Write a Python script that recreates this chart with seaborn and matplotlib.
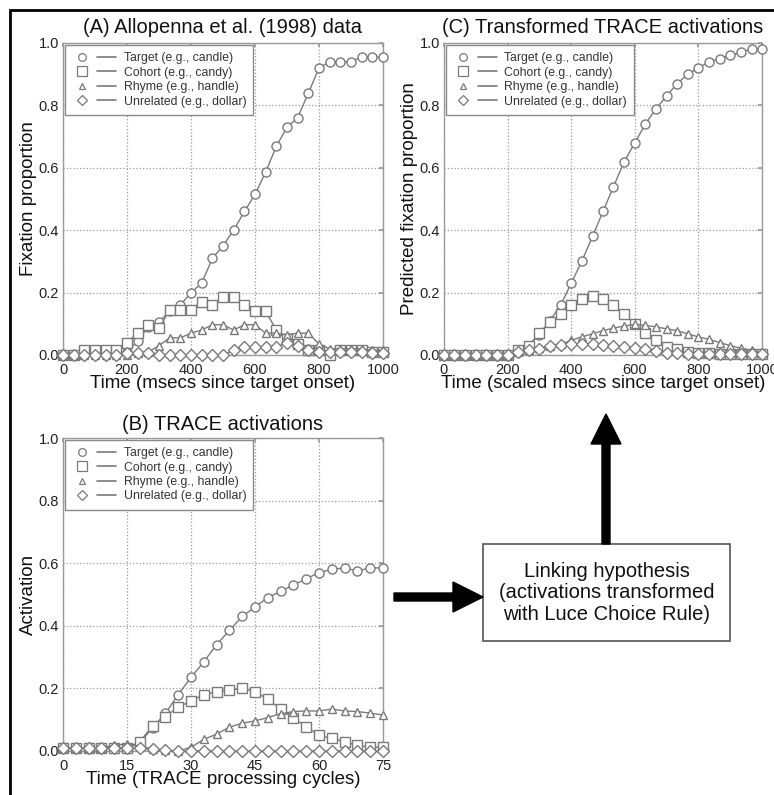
import matplotlib.pyplot as plt
import seaborn as sns
import numpy as np
from matplotlib.lines import Line2D
from matplotlib.legend_handler import HandlerTuple
from matplotlib.patches import FancyArrow, Rectangle

# ---- data ----
time_ms = [0, 33, 67, 100, 133, 167, 200, 233, 267, 300, 333, 367, 400, 433, 467, 500,
           533, 567, 600, 633, 667, 700, 733, 767, 800, 833, 867, 900, 933, 967, 1000]
cycles = [0, 3, 6, 9, 12, 15, 18, 21, 24, 27, 30, 33, 36, 39, 42, 45, 48, 51, 54, 57,
          60, 63, 66, 69, 72, 75]

labels = ["Target (e.g., candle)", "Cohort (e.g., candy)",
          "Rhyme (e.g., handle)", "Unrelated (e.g., dollar)"]

# (A) Allopenna et al. (1998)
a_target = [0.0, 0.0, 0.0, 0.01, 0.01, 0.01, 0.01, 0.045, 0.09, 0.105, 0.14, 0.16, 0.20, 0.23,
            0.31, 0.35, 0.40, 0.46, 0.515, 0.585, 0.67, 0.73, 0.76, 0.84, 0.92, 0.94, 0.94,
            0.94, 0.955, 0.955, 0.955]
a_cohort = [0.0, 0.0, 0.015, 0.015, 0.015, 0.015, 0.04, 0.07, 0.095, 0.085, 0.145, 0.145, 0.145,
            0.17, 0.16, 0.185, 0.185, 0.16, 0.14, 0.14, 0.08, 0.05, 0.035, 0.015, 0.015, 0.0,
            0.015, 0.015, 0.015, 0.01, 0.01]
a_rhyme = [0.0, 0.0, 0.0, 0.0, 0.0, 0.0, 0.0, 0.005, 0.01, 0.03, 0.055, 0.055, 0.07, 0.08, 0.097,
           0.097, 0.08, 0.097, 0.097, 0.07, 0.07, 0.065, 0.07, 0.07, 0.035, 0.02, 0.02, 0.02,
           0.02, 0.015, 0.015]
a_unrel = [0.0, 0.0, 0.0, 0.0, 0.0, 0.0, 0.005, 0.005, 0.005, 0.0, 0.0, 0.0, 0.0, 0.0, 0.0, 0.0,
           0.015, 0.025, 0.025, 0.025, 0.025, 0.04, 0.03, 0.015, 0.01, 0.01, 0.01, 0.01, 0.01,
           0.005, 0.005]

# (B) TRACE activations
b_target = [0.01, 0.01, 0.01, 0.01, 0.01, 0.01, 0.025, 0.075, 0.12, 0.18, 0.235, 0.285, 0.34,
            0.385, 0.43, 0.46, 0.49, 0.51, 0.53, 0.55, 0.57, 0.58, 0.585, 0.575, 0.585, 0.585]
b_cohort = [0.01, 0.01, 0.01, 0.01, 0.01, 0.01, 0.03, 0.08, 0.11, 0.14, 0.16, 0.18, 0.19, 0.195,
            0.2, 0.19, 0.165, 0.135, 0.105, 0.078, 0.05, 0.04, 0.03, 0.018, 0.012, 0.012]
b_rhyme = [0.01, 0.01, 0.01, 0.01, 0.018, 0.023, 0.015, 0.007, 0.002, 0.0, 0.012, 0.037, 0.054,
           0.076, 0.089, 0.096, 0.107, 0.119, 0.126, 0.128, 0.128, 0.134, 0.128, 0.126, 0.121,
           0.115]
b_unrel = [0.01, 0.01, 0.01, 0.01, 0.01, 0.01, 0.008, 0.005, 0.002, 0.0, 0.0, 0.0, 0.0, 0.0,
           0.0, 0.0, 0.0, 0.0, 0.0, 0.0, 0.0, 0.0, 0.0, 0.0, 0.0, 0.0]

# (C) Transformed TRACE activations
c_target = [0.0, 0.0, 0.0, 0.0, 0.0, 0.0, 0.0, 0.01, 0.03, 0.065, 0.11, 0.16, 0.23, 0.30, 0.38,
            0.46, 0.54, 0.62, 0.68, 0.74, 0.79, 0.83, 0.87, 0.90, 0.92, 0.94, 0.95, 0.96, 0.97,
            0.98, 0.98]
c_cohort = [0.0, 0.0, 0.0, 0.0, 0.0, 0.0, 0.0, 0.016, 0.03, 0.07, 0.107, 0.13, 0.16, 0.18, 0.19,
            0.18, 0.16, 0.13, 0.10, 0.072, 0.048, 0.027, 0.02, 0.01, 0.005, 0.005, 0.003, 0.003,
            0.003, 0.002, 0.002]
c_rhyme = [0.0, 0.0, 0.0, 0.0, 0.0, 0.0, 0.0, 0.01, 0.015, 0.021, 0.03, 0.035, 0.047, 0.058,
           0.068, 0.078, 0.086, 0.093, 0.098, 0.095, 0.09, 0.084, 0.078, 0.068, 0.058, 0.05,
           0.04, 0.03, 0.022, 0.015, 0.005]
c_unrel = [0.0, 0.0, 0.0, 0.0, 0.0, 0.0, 0.0, 0.01, 0.015, 0.02, 0.028, 0.033, 0.036, 0.036,
           0.035, 0.033, 0.03, 0.027, 0.022, 0.018, 0.012, 0.008, 0.005, 0.003, 0.003, 0.002,
           0.002, 0.002, 0.002, 0.002, 0.002]

markers = ["o", "s", "^", "D"]
msizes = [6.5, 7.8, 5.8, 5.8]
line_col = "#7a7a7a"

sns.set_theme(style="white")
plt.rcParams["font.family"] = ["Liberation Sans", "DejaVu Sans"]


def draw_panel(ax, x, series, title, xlabel, ylabel, xticks, title_pad):
    for ys, m, ms in zip(series, markers, msizes):
        sns.lineplot(x=x, y=ys, ax=ax, color=line_col, lw=1.0, marker=m, ms=ms,
                     markerfacecolor="white", markeredgecolor=line_col, markeredgewidth=1.0,
                     clip_on=False, legend=False, zorder=3)
    ax.set_xlim(xticks[0], xticks[-1])
    ax.set_ylim(0, 1)
    ax.set_xticks(xticks)
    ax.set_yticks([0.0, 0.2, 0.4, 0.6, 0.8, 1.0])
    ax.set_yticklabels([f"{v:.1f}" for v in [0.0, 0.2, 0.4, 0.6, 0.8, 1.0]])
    ax.grid(True, linestyle=":", color="#9a9a9a", lw=0.9)
    for sp in ax.spines.values():
        sp.set_color("#9a9a9a")
        sp.set_linewidth(1.0)
    ax.tick_params(direction="in", length=3, color="#9a9a9a", labelsize=10.5, pad=3,
                   labelcolor="#222222", top=True, right=True)
    ax.tick_params(axis="x", pad=5.5)
    ax.set_title(title, fontsize=14.5, pad=title_pad, color="#111111")
    ax.set_xlabel(xlabel, fontsize=13.5, labelpad=-1, color="#111111")
    ax.set_ylabel(ylabel, fontsize=13.5, labelpad=1, color="#111111")

    handles = []
    for m, ms in zip(markers, msizes):
        mk = Line2D([], [], ls="none", marker=m, ms=ms * 0.85, markerfacecolor="white",
                    markeredgecolor=line_col, markeredgewidth=0.9)
        ln = Line2D([], [], color=line_col, lw=1.2)
        handles.append((mk, ln))
    leg = ax.legend(handles, labels, loc="upper left", borderaxespad=0.15, fontsize=8.8,
                    handler_map={tuple: HandlerTuple(ndivide=None, pad=0.5)},
                    handlelength=3.6, handletextpad=0.6, labelspacing=0.2,
                    borderpad=0.6, fancybox=False, framealpha=1)
    leg.get_frame().set_edgecolor("#8a8a8a")
    leg.get_frame().set_linewidth(1.0)
    for t in leg.get_texts():
        t.set_color("#333333")


fig = plt.figure(figsize=(7.74, 7.95), dpi=100)
W, H = 774, 795

axA = fig.add_axes([63 / W, 1 - 355 / H, 320 / W, 312 / H])
axC = fig.add_axes([444 / W, 1 - 355 / H, 318 / W, 312 / H])
axB = fig.add_axes([63 / W, 1 - 751 / H, 320 / W, 313 / H])

ms_ticks = [0, 200, 400, 600, 800, 1000]
draw_panel(axA, time_ms, [a_target, a_cohort, a_rhyme, a_unrel],
           "(A) Allopenna et al. (1998) data", "Time (msecs since target onset)",
           "Fixation proportion", ms_ticks, 7.5)
draw_panel(axC, time_ms, [c_target, c_cohort, c_rhyme, c_unrel],
           "(C) Transformed TRACE activations", "Time (scaled msecs since target onset)",
           "Predicted fixation proportion", ms_ticks, 7.5)
draw_panel(axB, cycles, [b_target, b_cohort, b_rhyme, b_unrel],
           "(B) TRACE activations", "Time (TRACE processing cycles)",
           "Activation", [0, 15, 30, 45, 60, 75], 6)

# overlay in pixel coordinates for frame, arrows and linking box
ov = fig.add_axes([0, 0, 1, 1], zorder=-1)
ov.set_xlim(0, W)
ov.set_ylim(H, 0)
ov.axis("off")
ov.plot([10, 10, W], [H, 10, 10], color="black", lw=2.0, solid_joinstyle="miter")

ov.add_patch(Rectangle((483, 544), 247, 97, facecolor="white", edgecolor="#555555", lw=1.2))
ov.text(606.5, 593, "Linking hypothesis\n(activations transformed\nwith Luce Choice Rule)",
        ha="center", va="center", fontsize=14.5, linespacing=1.15, color="#111111")
ov.add_patch(FancyArrow(394, 597, 89, 0, width=8, head_width=30, head_length=30,
                        length_includes_head=True, color="black"))
ov.add_patch(FancyArrow(606, 544, 0, -130, width=8, head_width=30, head_length=30,
                        length_includes_head=True, color="black"))

fig.savefig("out.png", dpi=100)
